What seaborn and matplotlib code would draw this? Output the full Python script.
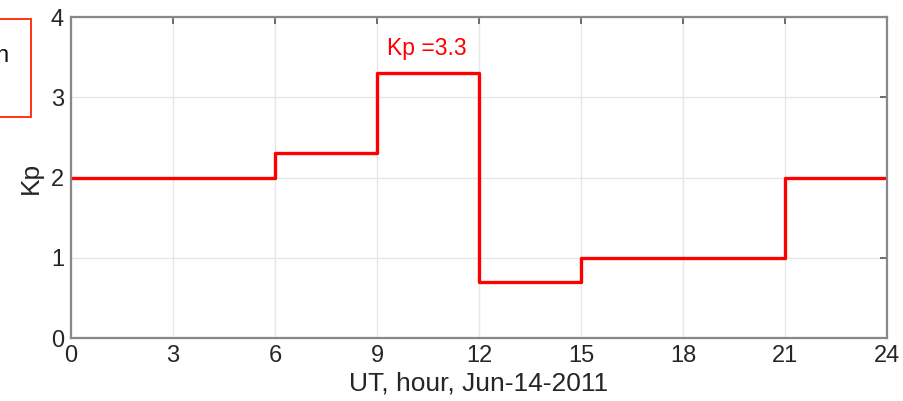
import matplotlib
matplotlib.use("Agg")
import matplotlib.pyplot as plt
import seaborn as sns
import pandas as pd
from matplotlib.patches import Rectangle

# Kp index per 3-hour interval, last value repeated to close the step
hours = [0, 3, 6, 9, 12, 15, 18, 21, 24]
kp = [2.0, 2.0, 2.3, 3.3, 0.7, 1.0, 1.0, 2.0, 2.0]
x_ticks = [0, 3, 6, 9, 12, 15, 18, 21, 24]
y_ticks = [0, 1, 2, 3, 4]

df = pd.DataFrame({'hour': hours, 'kp': kp})

sns.set_style("white")
plt.rcParams['font.family'] = ['Liberation Sans', 'DejaVu Sans']

fig = plt.figure(figsize=(9.04, 4.01), dpi=100)
ax = fig.add_axes([0.0785, 0.157, 0.9027, 0.8005])

sns.lineplot(data=df, x='hour', y='kp', ax=ax, color='#ff0000',
             linewidth=2.4, drawstyle='steps-post')

# peak annotation
imax = kp.index(max(kp))
ax.text(hours[imax] + 0.3, 3.61, f'Kp ={max(kp)}', color='#ff0000',
        fontsize=16.5, ha='left', va='center')

ax.set_xlim(0, 24)
ax.set_ylim(0, 4)
ax.set_xticks(x_ticks)
ax.set_yticks(y_ticks)
ax.grid(True, color='#e6e6e6', linewidth=1)
ax.set_xlabel('UT, hour, Jun-14-2011', fontsize=19, color='#262626', labelpad=3)
ax.set_ylabel('Kp', fontsize=19, color='#262626', labelpad=6)

for s in ax.spines.values():
    s.set_color('#888888')
    s.set_linewidth(1.6)
ax.tick_params(direction='in', length=5, width=1.2, color='#555555',
               labelsize=17, labelcolor='#262626', top=True, right=True,
               pad=5)

# piece of a neighbouring annotation box cut by the crop
fig.patches.append(Rectangle((-0.05, 1 - 117 / 401), 31 / 904 + 0.05, 98 / 401,
                             transform=fig.transFigure, fill=False,
                             edgecolor='#ff3311', linewidth=1.4))
fig.text(9 / 904, 1 - 62 / 401, 'n', fontsize=17, ha='right', va='baseline',
         color='#111111')

fig.savefig('out.png', dpi=100, facecolor='white')
